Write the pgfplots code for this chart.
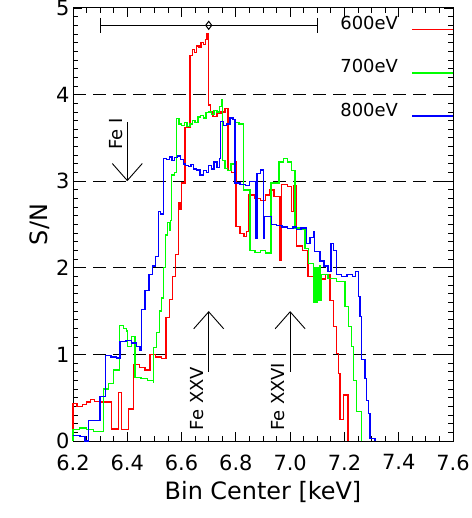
\documentclass[border=0pt]{standalone}
\usepackage{fontspec}
\setmainfont{DejaVu Sans}
\usepackage{pgfplots}
\pgfplotsset{compat=1.18}
\usetikzlibrary{arrows.meta}

\begin{document}
\begin{tikzpicture}
\begin{axis}[
  name=main,
  scale only axis, width=380bp, height=433bp,
  xmin=6.2, xmax=7.6, ymin=0, ymax=5,
  xtick={6.2,6.4,6.6,6.8,7.0,7.2,7.4,7.6},
  xticklabels={6.2,6.4,6.6,6.8,7.0,7.2,7.4,7.6},
  ytick={0,1,2,3,4,5},
  yticklabels={0,1,2,3,4,5},
  minor x tick num=3, minor y tick num=9,
  tick align=inside,
  major tick length=9bp, minor tick length=5bp,
  tick style={black, line width=0.8bp},
  axis line style={line width=1bp},
  tick label style={font=\fontsize{21}{21}\selectfont},
  xticklabel style={yshift=-10bp},
  xlabel={Bin Center [keV]}, ylabel={S/N},
  xlabel style={font=\fontsize{24}{24}\selectfont, yshift=-4bp},
  ylabel style={font=\fontsize{24}{24}\selectfont},
  clip=false,
]
% dashed reference lines
\addplot[black, line width=0.8bp, dash pattern=on 13bp off 7bp] coordinates {(6.2,1) (7.6,1)};
\addplot[black, line width=0.8bp, dash pattern=on 13bp off 7bp] coordinates {(6.2,2) (7.6,2)};
\addplot[black, line width=0.8bp, dash pattern=on 13bp off 7bp] coordinates {(6.2,3) (7.6,3)};
\addplot[black, line width=0.8bp, dash pattern=on 13bp off 7bp] coordinates {(6.2,4) (7.6,4)};
\addplot[const plot, red, line width=1.3bp] table {
x y
6.200 0.0
6.200 0.43
6.215 0.40
6.235 0.42
6.250 0.45
6.265 0.48
6.280 0.46
6.300 0.45
6.342 0.14
6.367 0.56
6.378 0.13
6.404 0.37
6.423 0.88
6.445 0.85
6.465 0.82
6.484 1.00
6.505 0.97
6.525 0.95
6.543 1.43
6.555 1.63
6.567 1.90
6.578 2.15
6.588 2.75
6.594 2.68
6.600 2.98
6.613 3.62
6.631 4.45
6.640 4.52
6.648 4.49
6.656 4.56
6.664 4.54
6.672 4.60
6.680 4.58
6.688 4.64
6.694 4.70
6.698 3.88
6.706 3.80
6.716 3.75
6.730 3.78
6.745 3.80
6.760 3.84
6.771 3.12
6.785 3.10
6.797 3.22
6.800 2.48
6.815 2.40
6.830 2.36
6.838 2.42
6.846 2.84
6.870 2.80
6.890 2.78
6.910 2.84
6.925 2.90
6.940 2.82
6.963 2.09
6.969 2.96
6.990 2.94
7.006 2.65
7.012 2.95
7.024 2.25
7.045 2.20
7.066 1.90
7.090 1.93
7.110 1.87
7.130 1.92
7.147 1.62
7.160 1.32
7.172 1.01
7.178 0.78
7.184 0.25
7.196 0.53
7.213 0.0
};
\addplot[const plot, green, line width=1.3bp] table {
x y
6.200 0.0
6.200 0.13
6.225 0.15
6.250 0.13
6.275 0.11
6.312 0.60
6.330 0.66
6.349 0.82
6.372 1.33
6.385 1.30
6.398 1.27
6.402 1.09
6.416 1.21
6.428 0.73
6.450 0.72
6.475 0.70
6.496 0.68
6.497 1.08
6.508 1.25
6.518 1.50
6.527 1.65
6.533 2.00
6.540 2.38
6.548 2.52
6.555 2.43
6.560 2.55
6.564 3.07
6.575 3.10
6.582 3.72
6.590 3.66
6.600 3.64
6.610 3.68
6.620 3.63
6.631 3.66
6.640 3.70
6.650 3.68
6.660 3.74
6.670 3.76
6.680 3.73
6.690 3.79
6.700 3.80
6.710 3.77
6.720 3.82
6.730 3.80
6.740 3.86
6.746 3.94
6.750 3.24
6.760 3.15
6.770 3.12
6.782 3.20
6.797 3.68
6.812 3.66
6.827 2.90
6.852 2.20
6.870 2.18
6.890 2.20
6.910 2.17
6.930 2.98
6.959 3.22
6.975 3.26
6.990 3.22
7.005 3.12
7.018 2.46
7.040 2.44
7.055 2.22
7.067 2.05
7.085 1.95
7.088 1.60
7.092 2.00
7.096 1.60
7.100 2.00
7.104 1.62
7.108 2.02
7.112 1.62
7.116 1.92
7.140 1.88
7.170 1.84
7.202 1.55
7.215 1.32
7.226 1.09
7.233 0.70
7.245 0.34
7.264 0.0
};
\addplot[const plot, blue, line width=1.3bp] table {
x y
6.200 0.06
6.226 0.05
6.244 0.0
6.256 0.24
6.270 0.24
6.300 0.51
6.320 0.99
6.340 0.97
6.360 0.96
6.373 1.15
6.395 1.16
6.415 1.13
6.435 1.09
6.447 1.05
6.453 1.52
6.465 1.74
6.480 1.92
6.493 2.02
6.504 2.13
6.514 2.65
6.522 2.62
6.533 3.26
6.545 3.25
6.555 3.28
6.565 3.24
6.575 3.27
6.585 3.29
6.595 3.25
6.606 3.20
6.615 3.18
6.625 3.17
6.635 3.19
6.645 3.14
6.655 3.13
6.668 3.07
6.680 3.12
6.692 3.10
6.700 3.18
6.710 3.14
6.720 3.22
6.730 3.16
6.740 3.26
6.744 3.69
6.755 3.64
6.765 3.66
6.778 3.73
6.790 3.71
6.797 2.98
6.815 2.96
6.835 2.95
6.850 3.00
6.872 2.34
6.878 3.09
6.890 3.13
6.901 2.34
6.905 2.59
6.932 2.50
6.950 2.49
6.970 2.47
6.990 2.45
7.010 2.47
7.024 2.44
7.040 2.46
7.060 2.28
7.073 2.35
7.085 2.42
7.091 2.19
7.110 2.08
7.125 2.02
7.140 1.96
7.150 2.28
7.160 2.20
7.172 1.92
7.190 1.90
7.210 1.92
7.230 1.90
7.240 1.96
7.251 1.67
7.257 1.44
7.264 0.94
7.276 0.72
7.282 0.47
7.288 0.32
7.294 0.03
7.313 0.0
};
% horizontal bar with diamond
\addplot[black, line width=1bp] coordinates {(6.3,4.8) (7.1,4.8)};
\addplot[black, only marks, mark=|, mark size=7.5bp, mark options={line width=1bp}] coordinates {(6.3,4.8) (7.1,4.8)};
\addplot[black, only marks, mark=diamond, mark size=4bp, mark options={fill=white, line width=1bp}] coordinates {(6.7,4.8)};
% legend keys
\addplot[red, line width=1.5bp] coordinates {(7.45,4.75) (7.6,4.75)};
\addplot[green, line width=1.5bp] coordinates {(7.45,4.25) (7.6,4.25)};
\addplot[blue, line width=1.5bp] coordinates {(7.45,3.75) (7.6,3.75)};
\node[anchor=base east, font=\fontsize{18}{18}\selectfont] at (axis cs:7.41,4.75) {600eV};
\node[anchor=base east, font=\fontsize{18}{18}\selectfont] at (axis cs:7.41,4.25) {700eV};
\node[anchor=base east, font=\fontsize{18}{18}\selectfont] at (axis cs:7.41,3.75) {800eV};
% line markers
\draw[black, line width=0.9bp, -{Straight Barb[length=17bp,width=30bp]}] (axis cs:6.4,3.68) -- (axis cs:6.4,3.0);
\draw[black, line width=0.9bp, -{Straight Barb[length=17bp,width=30bp]}] (axis cs:6.7,0.8) -- (axis cs:6.7,1.5);
\draw[black, line width=0.9bp, -{Straight Barb[length=17bp,width=30bp]}] (axis cs:7.0,0.8) -- (axis cs:7.0,1.5);
\node[rotate=90, font=\fontsize{18}{18}\selectfont] at (axis cs:6.358,3.545) {Fe I};
\node[rotate=90, font=\fontsize{18}{18}\selectfont] at (axis cs:6.656,0.49) {Fe XXV};
\node[rotate=90, font=\fontsize{18}{18}\selectfont] at (axis cs:6.955,0.51) {Fe XXVI};
\end{axis}
\pgfresetboundingbox
\path ([xshift=-73bp,yshift=-77bp]main.south west) rectangle ([xshift=19bp,yshift=8bp]main.north east);
\end{tikzpicture}
\end{document}
